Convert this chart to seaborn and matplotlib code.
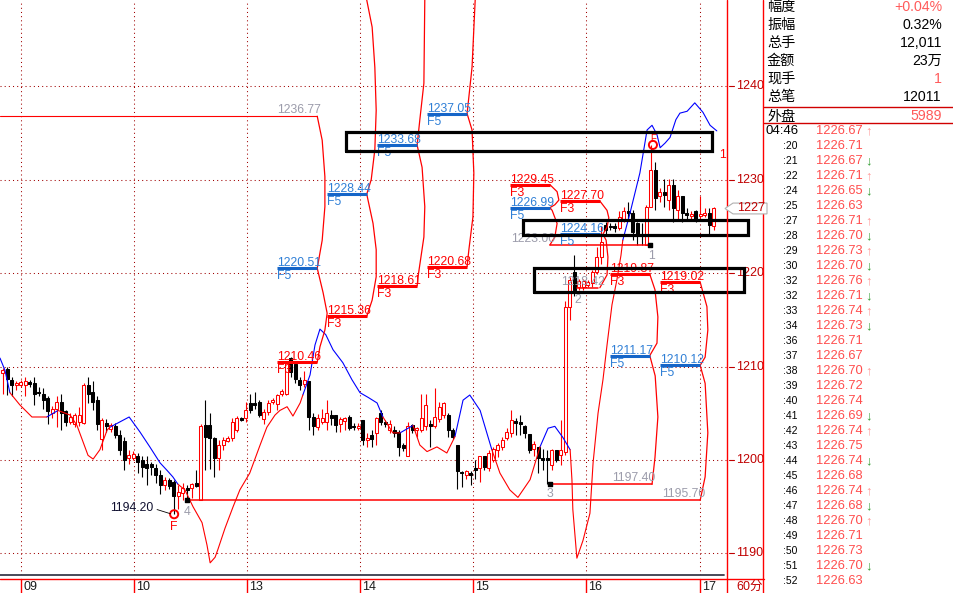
import numpy as np
import pandas as pd
import matplotlib
matplotlib.use("Agg")
import matplotlib.pyplot as plt
import matplotlib.transforms as mtransforms
from matplotlib.lines import Line2D
from matplotlib.patches import Polygon
import seaborn as sns

# ---------------- chart values ----------------
day_labels = ['09', '10', '13', '14', '15', '16', '17']
day_pos = [4.07, 29.18, 54.29, 79.4, 104.51, 129.62, 154.96]
price_ticks = [1190, 1200, 1210, 1220, 1230, 1240]

# 60 minute candles
opens = [
    1209.3, 1209.7, 1208.6, 1208.0, 1208.0, 1208.0, 1208.3, 1208.2, 1207.3, 1207.1,
    1206.6, 1205.0, 1205.5, 1206.2, 1205.2, 1204.1, 1203.9, 1204.1, 1204.0, 1208.0,
    1207.3, 1206.4, 1202.2, 1204.0, 1203.3, 1203.6, 1202.7, 1202.0, 1200.2, 1200.2,
    1200.4, 1200.0, 1199.6, 1199.6, 1199.1, 1198.4, 1197.3, 1197.9, 1197.7, 1196.1,
    1196.5, 1197.0, 1197.0, 1197.5, 1195.7, 1203.7, 1203.7, 1202.3, 1200.2, 1201.6,
    1202.0, 1202.3, 1203.2, 1204.5, 1204.5, 1206.1, 1206.1, 1206.2, 1204.4, 1205.1,
    1206.2, 1206.0, 1207.1, 1207.1, 1210.9, 1210.3, 1208.6, 1208.1, 1208.4, 1204.6,
    1203.5, 1204.1, 1204.1, 1204.8, 1204.8, 1203.9, 1204.2, 1204.6, 1203.6, 1203.4,
    1204.3, 1202.1, 1202.7, 1202.9, 1205.0, 1204.1, 1203.2, 1203.2, 1203.0, 1201.6,
    1200.4, 1203.7, 1203.2, 1203.2, 1203.6, 1203.9, 1203.6, 1204.4, 1204.8, 1204.8,
    1203.2, 1201.6, 1198.7, 1198.4, 1198.6, 1199.1, 1199.1, 1200.4, 1199.1, 1200.0,
    1201.1, 1201.4, 1202.3, 1202.9, 1204.2, 1204.1, 1203.6, 1202.8, 1201.2, 1201.4,
    1200.2, 1200.2, 1199.5, 1201.1, 1200.5, 1200.9, 1216.4, 1220.1, 1218.5, 1218.5,
    1218.7, 1218.9, 1220.1, 1221.7, 1225.1, 1225.0, 1225.0, 1224.8, 1225.8, 1226.6,
    1226.4, 1225.3, 1224.2, 1223.0, 1227.1, 1231.0, 1228.2, 1228.7, 1227.8, 1229.4,
    1226.7, 1228.2, 1226.4, 1226.1, 1226.6, 1226.1, 1226.2, 1226.4, 1225.0,
]
highs = [
    1209.8, 1210.0, 1208.9, 1208.5, 1208.6, 1208.9, 1208.6, 1208.9, 1207.8, 1207.7,
    1206.8, 1205.8, 1206.8, 1207.1, 1205.3, 1205.0, 1205.0, 1205.7, 1208.2, 1208.9,
    1208.4, 1206.8, 1204.5, 1204.4, 1204.0, 1204.0, 1203.2, 1202.5, 1201.1, 1201.0,
    1200.7, 1200.4, 1200.4, 1199.8, 1199.6, 1198.9, 1198.2, 1198.1, 1197.9, 1197.3,
    1197.5, 1197.3, 1197.5, 1198.9, 1203.8, 1206.4, 1205.0, 1202.5, 1202.1, 1202.5,
    1202.6, 1204.5, 1204.7, 1204.6, 1206.2, 1207.1, 1207.3, 1206.4, 1205.5, 1206.4,
    1206.6, 1207.1, 1207.6, 1210.5, 1211.0, 1210.5, 1208.9, 1209.5, 1208.5, 1205.0,
    1204.9, 1205.5, 1206.4, 1205.3, 1204.8, 1204.6, 1204.6, 1204.8, 1204.0, 1204.0,
    1204.3, 1202.9, 1203.2, 1204.6, 1205.3, 1204.3, 1204.3, 1203.6, 1203.2, 1201.8,
    1204.1, 1203.9, 1203.5, 1207.1, 1207.1, 1204.3, 1207.7, 1206.2, 1206.2, 1205.0,
    1203.4, 1201.6, 1198.8, 1198.9, 1198.8, 1200.0, 1200.4, 1200.4, 1201.1, 1201.4,
    1201.8, 1202.5, 1203.4, 1205.3, 1204.5, 1204.8, 1203.7, 1202.8, 1202.0, 1201.4,
    1201.2, 1201.1, 1201.2, 1201.1, 1204.3, 1217.0, 1219.6, 1221.9, 1219.4, 1219.4,
    1219.3, 1220.3, 1222.8, 1225.0, 1225.5, 1225.3, 1225.3, 1226.6, 1227.1, 1227.6,
    1226.7, 1225.5, 1225.3, 1227.3, 1233.7, 1231.9, 1229.05, 1230.1, 1230.1, 1230.1,
    1228.9, 1228.2, 1226.9, 1226.6, 1226.7, 1228.2, 1226.9, 1226.9, 1227.1,
]
lows = [
    1207.1, 1207.0, 1206.8, 1207.5, 1207.8, 1206.8, 1207.8, 1205.9, 1206.8, 1205.5,
    1203.9, 1204.5, 1203.5, 1203.2, 1203.6, 1203.9, 1203.5, 1203.6, 1203.8, 1206.1,
    1205.3, 1203.2, 1201.1, 1203.0, 1203.0, 1202.4, 1200.5, 1198.9, 1199.6, 1200.0,
    1198.6, 1198.2, 1197.3, 1198.4, 1197.5, 1196.4, 1196.8, 1196.9, 1194.2, 1194.8,
    1195.7, 1195.7, 1195.9, 1197.1, 1195.7, 1198.9, 1199.0, 1198.2, 1198.9, 1201.1,
    1201.9, 1202.0, 1203.0, 1204.2, 1204.1, 1205.0, 1205.5, 1204.6, 1203.9, 1204.8,
    1206.0, 1205.3, 1206.8, 1206.9, 1208.9, 1208.2, 1207.5, 1207.8, 1203.2, 1202.7,
    1203.2, 1203.9, 1203.2, 1203.7, 1203.0, 1203.0, 1203.2, 1203.2, 1203.2, 1203.2,
    1201.6, 1201.4, 1201.4, 1201.6, 1203.7, 1203.5, 1202.9, 1202.5, 1200.4, 1201.0,
    1200.4, 1202.9, 1202.5, 1203.0, 1203.2, 1201.4, 1203.4, 1204.1, 1204.5, 1202.5,
    1202.2, 1196.9, 1197.1, 1198.0, 1197.3, 1198.0, 1197.7, 1198.9, 1198.8, 1199.8,
    1200.3, 1201.1, 1202.1, 1202.5, 1202.7, 1202.7, 1202.3, 1200.7, 1200.4, 1198.6,
    1198.9, 1197.4, 1198.9, 1199.8, 1199.5, 1200.5, 1215.0, 1217.5, 1218.2, 1218.2,
    1218.5, 1218.5, 1219.9, 1221.0, 1224.2, 1224.6, 1224.4, 1224.6, 1225.5, 1225.7,
    1223.5, 1223.0, 1223.0, 1223.0, 1227.1, 1226.7, 1227.6, 1227.1, 1226.7, 1225.5,
    1225.8, 1225.5, 1225.7, 1225.8, 1225.5, 1225.7, 1226.0, 1224.2, 1224.6,
]
closes = [
    1209.6, 1208.7, 1208.0, 1208.2, 1208.3, 1208.4, 1208.1, 1207.1, 1207.2, 1206.4,
    1205.2, 1205.5, 1206.2, 1205.0, 1204.1, 1204.6, 1204.8, 1204.8, 1208.0, 1207.1,
    1206.2, 1203.9, 1204.3, 1203.6, 1203.7, 1202.7, 1201.1, 1200.0, 1200.5, 1200.6,
    1199.8, 1199.3, 1199.1, 1199.2, 1198.4, 1197.3, 1197.9, 1197.2, 1196.1, 1196.6,
    1197.0, 1196.8, 1197.4, 1197.2, 1203.6, 1202.5, 1202.3, 1200.2, 1201.6, 1202.1,
    1202.4, 1204.1, 1204.5, 1204.3, 1205.3, 1205.3, 1205.9, 1204.8, 1205.1, 1206.1,
    1206.4, 1206.9, 1207.4, 1210.5, 1209.4, 1208.7, 1208.0, 1208.6, 1204.6, 1203.6,
    1204.5, 1204.5, 1205.0, 1204.5, 1203.7, 1204.4, 1204.5, 1203.4, 1203.5, 1203.6,
    1202.1, 1202.4, 1202.2, 1204.5, 1204.1, 1203.8, 1203.9, 1202.9, 1201.4, 1201.3,
    1203.6, 1203.2, 1203.4, 1204.5, 1205.9, 1203.6, 1204.6, 1205.7, 1206.1, 1203.2,
    1202.5, 1198.8, 1198.6, 1198.8, 1198.4, 1198.9, 1200.4, 1199.3, 1200.7, 1201.2,
    1201.6, 1202.1, 1203.0, 1204.3, 1204.0, 1203.8, 1202.9, 1201.1, 1201.7, 1200.2,
    1200.0, 1200.0, 1201.1, 1200.0, 1201.1, 1216.4, 1219.2, 1218.2, 1219.1, 1219.1,
    1219.0, 1220.1, 1221.7, 1223.3, 1224.6, 1224.9, 1224.8, 1226.0, 1226.6, 1226.4,
    1224.4, 1224.2, 1224.0, 1227.1, 1231.0, 1228.0, 1228.7, 1228.3, 1229.4, 1226.9,
    1228.2, 1226.4, 1226.2, 1226.3, 1225.8, 1226.3, 1226.4, 1225.1, 1226.9,
]

# trend line, blue when above price, red when below (bar index, price)
blue_segments = [
    ([-0.6, 0.5, 1.6], [1210.9, 1209.6, 1207.2]),
    ([9.8, 12.3], [1204.6, 1205.3]),
    ([23.8, 28.1, 30.5, 32.7, 34.96, 36.5, 37.8, 38.96],
     [1203.5, 1204.6, 1203.0, 1201.4, 1199.7, 1198.9, 1198.2, 1197.4]),
    ([66.7, 68.3, 69.4, 70.5, 71.8, 73.4, 75.6, 77.6, 79.4, 81.2, 83.2, 84.5],
     [1206.95, 1209.1, 1212.3, 1214.0, 1213.4, 1211.8, 1210.4, 1208.6, 1207.2, 1206.7, 1206.1, 1204.6]),
    ([88.3, 90.1, 91.2], [1202.9, 1203.4, 1203.7]),
    ([100.5, 102.3, 103.8, 106.1, 108.7], [1202.5, 1206.4, 1206.95, 1205.3, 1201.1]),
    ([119.4, 121.2, 122.7, 124.5, 126.1], [1201.4, 1203.4, 1203.6, 1202.4, 1201.1]),
    ([137.8, 139.4, 141.6, 143.2, 144.3, 145.4, 146.1, 147.2, 148.3, 149.6, 150.5, 152.1,
      153.8, 155.6, 157.2, 158.7],
     [1223.5, 1226.4, 1230.7, 1235.3, 1235.8, 1234.8, 1233.4, 1233.9, 1234.5, 1236.4, 1237.1,
      1237.3, 1238.2, 1237.2, 1235.8, 1235.2]),
]
red_segments = [
    ([1.6, 3.8, 6.5, 9.8], [1207.2, 1205.9, 1204.6, 1204.6]),
    ([12.3, 15.0, 16.5, 18.96, 20.1, 21.6, 23.2, 23.8],
     [1205.3, 1204.8, 1203.7, 1200.5, 1200.1, 1201.1, 1203.2, 1203.5]),
    ([38.96, 40.5, 42.3, 44.3, 45.4, 46.1, 47.2, 47.8, 49.4, 51.2, 52.7, 54.9, 57.2, 58.7,
      60.5, 61.6, 63.2, 64.5, 66.1, 66.7],
     [1197.4, 1196.8, 1195.0, 1193.3, 1190.9, 1189.0, 1189.6, 1190.4, 1192.7, 1195.0, 1196.8,
      1198.6, 1201.6, 1203.5, 1204.8, 1205.3, 1205.7, 1204.7, 1206.1, 1206.95]),
    ([84.5, 86.7, 88.3], [1204.6, 1202.9, 1202.9]),
    ([91.2, 92.7, 94.3, 96.5, 98.7, 100.5], [1203.7, 1201.6, 1200.9, 1201.4, 1200.75, 1202.5]),
    ([108.7, 110.5, 112.7, 114.5, 117.2, 119.4], [1201.1, 1198.6, 1196.8, 1196.0, 1197.9, 1201.4]),
    ([126.1, 126.5, 126.7, 127.6, 128.96, 130.5, 131.2, 132.3, 133.4, 134.3, 135.4, 136.5,
      137.4, 137.8],
     [1201.1, 1197.9, 1194.7, 1189.5, 1191.4, 1194.3, 1199.7, 1205.0, 1208.6, 1212.3, 1216.6,
      1219.3, 1221.9, 1223.5]),
]

# fibonacci time arcs joining the level ends
arcs = [
    ([69.9, 71.0, 71.6, 71.6, 71.0, 69.9, 71.2, 72.1, 71.6, 70.5, 69.9],
     [1236.77, 1234.2, 1230.3, 1227.1, 1223.5, 1220.51, 1217.9, 1215.7, 1213.9, 1212.1, 1210.46]),
    ([80.9, 82.1, 82.7, 83.0, 82.7, 81.9, 80.9, 82.3, 83.0, 83.0, 82.1, 80.9],
     [1249.2, 1246.3, 1242.0, 1237.4, 1233.2, 1230.0, 1228.44, 1225.3, 1222.5, 1219.6, 1217.1, 1215.36]),
    ([93.8, 93.6, 92.7, 92.1, 93.2, 93.8, 93.6, 92.3, 92.1],
     [1249.2, 1240.3, 1236.4, 1233.68, 1231.3, 1227.1, 1223.85, 1219.6, 1218.61]),
    ([105.0, 104.3, 103.2, 104.3, 104.7, 104.5, 103.6, 103.2],
     [1249.2, 1242.0, 1237.05, 1235.3, 1230.7, 1226.0, 1222.5, 1220.68]),
    ([121.6, 123.2, 123.6, 122.7, 121.6, 122.1, 123.2, 122.7, 121.6],
     [1229.45, 1228.7, 1227.8, 1227.3, 1226.99, 1226.7, 1225.3, 1223.85, 1223.0]),
    ([132.7, 134.3, 134.7, 134.3, 133.4, 134.1, 134.5, 134.3, 132.7],
     [1227.7, 1226.7, 1225.9, 1224.9, 1224.16, 1223.5, 1221.7, 1219.8, 1218.42]),
    ([143.8, 144.96, 145.6, 145.4, 143.8, 145.0, 145.6, 144.96, 144.3],
     [1219.87, 1218.2, 1215.3, 1212.5, 1211.17, 1209.0, 1204.6, 1200.3, 1197.4]),
    ([155.0, 156.5, 156.7, 156.1, 155.0, 156.1, 156.7, 156.1, 155.0],
     [1219.02, 1216.4, 1213.9, 1211.0, 1210.12, 1208.2, 1202.9, 1198.2, 1195.7]),
]

# projected levels
fib_text = ['1220.51', '1215.36', '1210.46', '1228.44', '1233.68', '1218.61', '1237.05', '1220.68',
            '1229.45', '1226.99', '1227.70', '1224.16', '1219.87', '1211.17', '1219.02', '1210.12']
fib_tag = ['F5', 'F3', 'F3', 'F5', 'F5', 'F3', 'F5', 'F3',
           'F3', 'F5', 'F3', 'F5', 'F3', 'F5', 'F3', 'F5']
fib_start = [61.0, 72.1, 61.0, 72.1, 83.2, 83.2, 94.3, 94.3,
             112.7, 112.7, 123.8, 123.8, 134.95, 134.95, 146.1, 146.1]
fib_end = [69.9, 80.9, 69.9, 80.9, 92.1, 92.1, 103.2, 103.2,
           121.6, 121.6, 132.7, 132.7, 143.8, 143.8, 155.0, 155.0]

# swing levels (gray labels)
swing_text = ['1236.77', '1223.00', '1218.42', '1197.40', '1195.70']
swing_start = [-0.6, 121.6, 127.6, 121.6, 41.0]
swing_end = [69.9, 143.9, 132.3, 144.3, 155.0]
swing_label_k = [70.7, 122.7, 133.8, 145.0, 156.1]

count_text = ['4', '3', '2', '1']
count_k = [41.0, 121.7, 127.8, 144.1]
count_price = [1194.4, 1196.4, 1217.1, 1221.8]
pivot_k = [41.0, 121.6, 143.9]
pivot_price = [1195.7, 1197.4, 1223.0]

# hand drawn boxes: k0, k1, low, high
box_k0 = [76.3, 115.6, 118.1]
box_k1 = [157.6, 165.6, 164.7]
box_lo = [1233.1, 1224.06, 1218.0]
box_hi = [1235.1, 1225.67, 1220.5]

# quote panel
stat_names = ['幅度', '振幅', '总手', '金额', '现手', '总笔']
stat_values = ['+0.04%', '0.32%', '12,011', '23万', '1', '12011']
stat_red = [True, False, False, False, True, False]
tick_times = [':20', ':21', ':22', ':24', ':25', ':27', ':28', ':29', ':30', ':32', ':32', ':33',
              ':34', ':36', ':37', ':38', ':39', ':40', ':41', ':42', ':43', ':44', ':45', ':46',
              ':47', ':48', ':49', ':50', ':51', ':52']
tick_prices = ['1226.67', '1226.71', '1226.67', '1226.71', '1226.65', '1226.63', '1226.71',
               '1226.70', '1226.73', '1226.70', '1226.76', '1226.71', '1226.74', '1226.73',
               '1226.71', '1226.67', '1226.70', '1226.72', '1226.74', '1226.69', '1226.74',
               '1226.75', '1226.74', '1226.68', '1226.74', '1226.68', '1226.70', '1226.71',
               '1226.73', '1226.70', '1226.63']
tick_dirs = ['up', '', 'down', 'up', 'down', '', 'up', 'down', 'up', 'down', 'up', 'down', 'up',
             'down', '', '', 'up', '', '', 'down', 'up', '', 'down', '', 'up', 'down', 'up', '',
             '', 'down', '']

# ---------------- style ----------------
sns.set_theme(style='white')
plt.rcParams['font.family'] = ['Liberation Sans', 'Noto Sans CJK SC', 'DejaVu Sans']

RED = '#ff0000'
DRED = '#c00000'
BLUE_TXT = '#2f7fd6'
BLUE_LN = '#1565c8'
GRAY = '#9c9cab'
W, H = 954, 593

fig = plt.figure(figsize=(W / 100, H / 100), dpi=100)
fig.patch.set_facecolor('white')
ax = fig.add_axes([0, 1 - 575 / H, 727 / W, 575 / H])
ax.set_facecolor('white')


def fx(px):
    return px / W


def fy(py):
    return 1 - py / H


def shift(dx, dy):
    return mtransforms.offset_copy(ax.transData, fig=fig, x=dx, y=dy, units='dots')


# dotted grid
for p in price_ticks:
    ax.axhline(p, color='#a00000', lw=0.75, ls=(0, (1, 3)), zorder=1)
for d in day_pos:
    ax.axvline(d, color='#a00000', lw=0.75, ls=(0, (1, 3)), zorder=1)

# candles
df = pd.DataFrame({'open': opens, 'high': highs, 'low': lows, 'close': closes})
df['k'] = np.arange(len(df))
up = df['close'] >= df['open']
edge = np.where(up, RED, 'black')
face = np.where(up, 'white', 'black')
ax.vlines(df['k'], df['low'], df['high'], colors=edge, lw=0.8, zorder=3)
ax.bar(df['k'], np.maximum((df['close'] - df['open']).abs(), 0.12),
       bottom=np.minimum(df['open'], df['close']), width=0.62,
       color=face, edgecolor=edge, linewidth=0.75, zorder=4)

# trend line
for ks, ps in blue_segments:
    sns.lineplot(x=ks, y=ps, sort=False, estimator=None, color='#0000ff', lw=0.8,
                 ax=ax, legend=False, zorder=5)
for ks, ps in red_segments:
    sns.lineplot(x=ks, y=ps, sort=False, estimator=None, color=RED, lw=0.8,
                 ax=ax, legend=False, zorder=5)
for ks, ps in arcs:
    sns.lineplot(x=ks, y=ps, sort=False, estimator=None, color=RED, lw=0.9,
                 ax=ax, legend=False, zorder=5)

# projected levels
for txt, tag, k0, k1 in zip(fib_text, fib_tag, fib_start, fib_end):
    p = float(txt)
    blue = tag == 'F5'
    ax.plot([k0, k1], [p, p], color=BLUE_LN if blue else RED, lw=2.2,
            solid_capstyle='butt', zorder=6)
    ax.text(k0, p, txt, color=BLUE_TXT if blue else RED, fontsize=8.8,
            ha='left', va='baseline', transform=shift(0, 2), zorder=7)
    ax.text(k0, p, tag, color=BLUE_TXT if blue else RED, fontsize=8.8,
            ha='left', va='top', transform=shift(0, -2), zorder=7)

for txt, k0, k1, kl in zip(swing_text, swing_start, swing_end, swing_label_k):
    p = float(txt)
    ax.plot([k0, k1], [p, p], color=RED, lw=0.8 if k0 < 0 else 1.1, zorder=6)
    ax.text(kl, p, txt, color=GRAY, fontsize=8.8, ha='right', va='baseline',
            transform=shift(0, 3), zorder=7)

for t, k, p in zip(count_text, count_k, count_price):
    ax.text(k, p, t, color=GRAY, fontsize=8.8, ha='center', va='center', zorder=7)
ax.scatter(pivot_k, pivot_price, marker='s', s=9, color='black', zorder=8)

# turning point marks
low_k, low_p = 38.1, lows[38]
ax.scatter([low_k], [low_p], s=34, facecolor='none', edgecolor=RED, lw=1.4, zorder=8)
ax.text(low_k, low_p, 'F', color=RED, fontsize=8.8, ha='center', va='top',
        transform=shift(0, -7), zorder=8)
ax.plot([low_k - 3.8, low_k - 0.8], [low_p + 0.5, low_p + 0.05], color='black', lw=0.6, zorder=8)
ax.text(low_k - 4.7, low_p, f'{low_p:.2f}', color='#101030', fontsize=8.8,
        ha='right', va='center', transform=shift(0, 6), zorder=8)
hi_k, hi_p = 144.5, highs[144]
ax.scatter([hi_k], [hi_p], s=34, facecolor='none', edgecolor=RED, lw=1.4, zorder=8)
ax.text(hi_k, hi_p, 'F', color=RED, fontsize=7, ha='center', va='bottom',
        transform=shift(0, 1), zorder=8)
ax.text(159.9, 1232.6, '1', color=RED, fontsize=8.8, ha='center', va='center', zorder=8)

# boxes
for k0, k1, lo, hi in zip(box_k0, box_k1, box_lo, box_hi):
    ax.plot([k0, k1, k1, k0, k0], [lo, lo, hi, hi, lo], color='black', lw=2.3,
            clip_on=False, zorder=9, solid_joinstyle='miter')

ax.set_xlim(-0.6, 160.96)
ax.set_ylim(1187.70, 1249.20)
ax.set_axis_off()

# right price axis
ty = mtransforms.blended_transform_factory(fig.transFigure, ax.transData)
for p in price_ticks:
    ax.plot([fx(729), fx(734)], [p, p], color=DRED, lw=0.8, transform=ty, clip_on=False)
    ax.text(fx(736), p, str(p), color=DRED, fontsize=9, ha='left', va='center',
            transform=ty, clip_on=False)
last = closes[-1]
tag_x = [fx(725), fx(733), fx(767), fx(767), fx(733)]
tag_y = [last, last + 0.58, last + 0.58, last - 0.58, last - 0.58]
fig.add_artist(Polygon(list(zip(tag_x, tag_y)), closed=True, facecolor='white',
                       edgecolor='#b0b0b0', lw=0.8, transform=ty, zorder=10))
fig.text(fx(737), last, f'{round(last)}', color=DRED, fontsize=9, ha='left',
         va='center', transform=ty, zorder=11)

# frame lines
fig.add_artist(Line2D([0, fx(724)], [fy(574.5)] * 2, color='#3c3c4c', lw=1.3))
fig.add_artist(Line2D([0, fx(764)], [fy(578.5)] * 2, color=RED, lw=1.0))
fig.add_artist(Line2D([fx(726.5)] * 2, [0, 1], color=RED, lw=1.0))
fig.add_artist(Line2D([fx(763.5)] * 2, [0, 1], color=RED, lw=1.0))

# date axis
tx = mtransforms.blended_transform_factory(ax.transData, fig.transFigure)
for d, lab in zip(day_pos, day_labels):
    ax.plot([d, d], [fy(578.5), 0], color=RED, lw=1.0, transform=tx, clip_on=False)
    ax.text(d, fy(587), lab, color='#1a1a1a', fontsize=9, ha='left', va='center',
            transform=mtransforms.offset_copy(tx, fig=fig, x=2, y=0, units='dots'),
            clip_on=False)
fig.text(fx(736), fy(587), '60分', color=DRED, fontsize=9, ha='left', va='center')

# quote panel
for i, (name, val, red) in enumerate(zip(stat_names, stat_values, stat_red)):
    yy = fy(7 + 18 * i)
    fig.text(fx(767), yy, name, color='black', fontsize=10.2, ha='left', va='center')
    fig.text(fx(942), yy, val, color='#ff5a5a' if red else 'black', fontsize=10.2,
             ha='right', va='center')
fig.add_artist(Line2D([fx(764), 1], [fy(106.5)] * 2, color='#d00000', lw=1.0))
fig.text(fx(767), fy(116.5), '外盘', color='black', fontsize=10.2, ha='left', va='center')
fig.text(fx(942), fy(116.5), '5989', color='#ff5a5a', fontsize=10.2, ha='right', va='center')
fig.add_artist(Line2D([fx(764), 1], [fy(122.5)] * 2, color='#d00000', lw=1.0))

row_times = ['04:46'] + tick_times
for i, (tm, pr, dr) in enumerate(zip(row_times, tick_prices, tick_dirs)):
    yy = fy(131 + 15 * i)
    if i == 0:
        fig.text(fx(765), yy, tm, color='black', fontsize=9.5, ha='left', va='center')
    else:
        fig.text(fx(783), yy, tm, color='black', fontsize=7.5, ha='left', va='center')
    fig.text(fx(816), yy, pr, color='#ff4d4d', fontsize=9.3, ha='left', va='center')
    if dr == 'up':
        fig.text(fx(865), yy, '↑', color='#ff9a9a', fontsize=9.5, ha='left', va='center')
    elif dr == 'down':
        fig.text(fx(865), yy, '↓', color='#3aa03a', fontsize=9.5, ha='left', va='center')

fig.savefig('out.png', dpi=100, facecolor='white')
